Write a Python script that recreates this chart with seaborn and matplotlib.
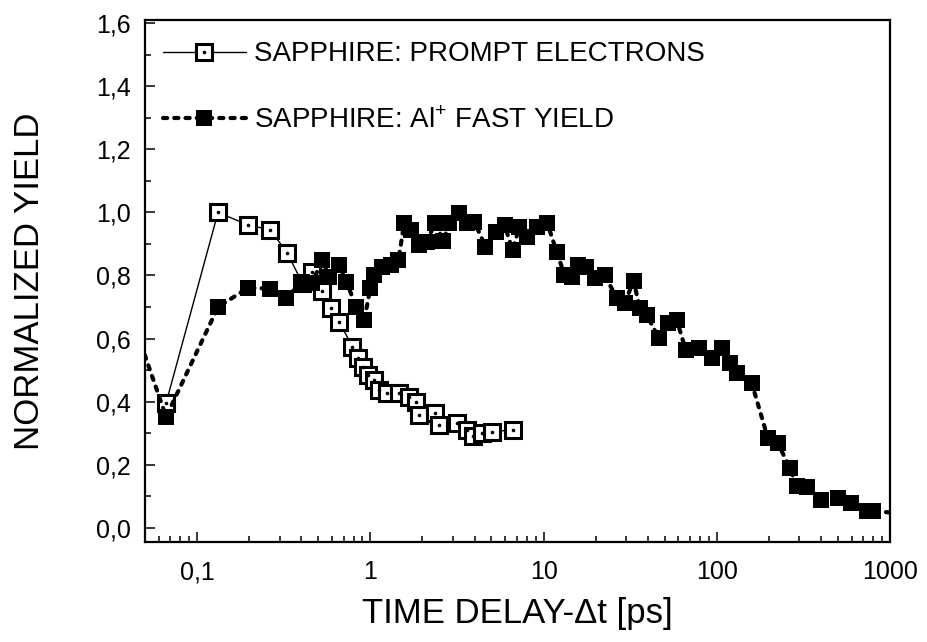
import matplotlib
matplotlib.use("Agg")
import matplotlib.pyplot as plt
import seaborn as sns
from matplotlib.ticker import FixedLocator, LogLocator, FuncFormatter, MultipleLocator, NullFormatter

# ---------------- data ----------------
prompt_t = [0.0662, 0.132, 0.197, 0.264, 0.331, 0.404, 0.462, 0.528, 0.595, 0.662,
            0.787, 0.853, 0.911, 0.974, 1.055, 1.127, 1.254, 1.471, 1.68, 1.845,
            1.92, 2.37, 2.50, 3.18, 3.59, 3.89, 4.44, 5.07, 6.62]
prompt_y = [0.396, 1.00, 0.960, 0.945, 0.872, 0.777, 0.811, 0.751, 0.697, 0.653,
            0.574, 0.539, 0.510, 0.485, 0.469, 0.437, 0.428, 0.428, 0.415, 0.400,
            0.358, 0.365, 0.326, 0.333, 0.311, 0.292, 0.301, 0.304, 0.311]

al_t = [0.043, 0.0662, 0.132, 0.197, 0.264, 0.327, 0.404, 0.462, 0.528, 0.579,
        0.662, 0.727, 0.830, 0.923, 1.0, 1.055, 1.174, 1.322, 1.452, 1.57,
        1.726, 1.92, 2.11, 2.37, 2.64, 2.86, 3.27, 3.59, 3.99, 4.62,
        5.28, 5.95, 6.62, 7.26, 7.98, 9.12, 10.5, 11.9, 13.2, 14.5,
        15.9, 17.5, 19.7, 22.5, 26.4, 29.4, 33.1, 35.9, 39.4, 46.2,
        52.1, 58.7, 66.2, 78.7, 93.6, 107, 119, 131, 159, 197,
        225, 264, 290, 331, 399, 500, 595, 737, 798, 1150]
al_y = [0.65, 0.352, 0.70, 0.761, 0.758, 0.729, 0.780, 0.777, 0.849, 0.796,
        0.834, 0.780, 0.700, 0.659, 0.761, 0.802, 0.827, 0.834, 0.849, 0.967,
        0.945, 0.897, 0.906, 0.967, 0.910, 0.967, 0.998, 0.967, 0.970, 0.891,
        0.938, 0.960, 0.881, 0.954, 0.922, 0.954, 0.967, 0.875, 0.802, 0.796,
        0.834, 0.827, 0.792, 0.802, 0.729, 0.713, 0.783, 0.697, 0.675, 0.602,
        0.650, 0.659, 0.564, 0.571, 0.539, 0.571, 0.523, 0.491, 0.460, 0.285,
        0.269, 0.190, 0.133, 0.130, 0.089, 0.095, 0.079, 0.054, 0.054, 0.045]

x_ticks = [0.1, 1, 10, 100, 1000]
x_tick_labels = ["0,1", "1", "10", "100", "1000"]
label_prompt = "SAPPHIRE: PROMPT ELECTRONS"
label_al = "SAPPHIRE: Al$^{+}$ FAST YIELD"
x_label = "TIME DELAY-\u0394t [ps]"
y_label = "NORMALIZED YIELD"

# ---------------- style ----------------
sns.set_theme(style="white")
plt.rcParams["font.family"] = ["Liberation Sans", "DejaVu Sans"]
plt.rcParams["mathtext.fontset"] = "custom"
plt.rcParams["mathtext.rm"] = "Liberation Sans"
plt.rcParams["text.color"] = "black"
plt.rcParams["axes.labelcolor"] = "black"

fig = plt.figure(figsize=(9.27, 6.42), dpi=100)
fig.patch.set_facecolor("white")
ax = fig.add_axes([145 / 927, 1 - 542 / 642, (890 - 145) / 927, (542 - 20) / 642])
ax.set_facecolor("white")

# open squares (prompt electrons) with thin solid line
sns.lineplot(x=prompt_t, y=prompt_y, ax=ax, estimator=None, sort=False,
             color="black", linewidth=1.0, marker="s", markersize=11.5,
             markerfacecolor="white", markeredgecolor="black",
             markeredgewidth=2.2, zorder=3)
# centre dots
sns.lineplot(x=prompt_t, y=prompt_y, ax=ax, estimator=None, sort=False,
             color="black", linewidth=0, marker="o", markersize=2.6,
             markeredgewidth=0, zorder=3.5)
# filled squares (Al+) with dotted/dashed line
sns.lineplot(x=al_t, y=al_y, ax=ax, estimator=None, sort=False,
             color="black", linewidth=3.0, linestyle=(0, (1.0, 1.7)),
             dash_capstyle="round", marker="s", markersize=11,
             markeredgewidth=0, zorder=4)

ax.set_xscale("log")
ax.set_xlim(0.05, 1000)
ax.set_ylim(-0.045, 1.61)

ax.xaxis.set_major_locator(FixedLocator(x_ticks))
ax.xaxis.set_major_formatter(FuncFormatter(
    lambda v, p: dict(zip(x_ticks, x_tick_labels)).get(v, "")))
ax.xaxis.set_minor_locator(LogLocator(base=10, subs=[2, 3, 4, 5, 6, 7, 8, 9], numticks=20))
ax.xaxis.set_minor_formatter(NullFormatter())

ax.yaxis.set_major_locator(MultipleLocator(0.2))
ax.yaxis.set_minor_locator(MultipleLocator(0.1))
ax.yaxis.set_major_formatter(FuncFormatter(lambda v, p: f"{v:.1f}".replace(".", ",")))

ax.tick_params(axis="both", which="both", direction="in", top=False, right=False,
               bottom=True, left=True, colors="black", labelcolor="black")
ax.tick_params(axis="both", which="major", length=7.5, width=1.1, labelsize=18)
ax.tick_params(axis="both", which="minor", length=4, width=1.1)
ax.tick_params(axis="x", which="major", pad=13)
ax.tick_params(axis="y", which="major", pad=10)

for s in ax.spines.values():
    s.set_visible(True)
    s.set_linewidth(1.6)
    s.set_color("black")

ax.set_xlabel(x_label, fontsize=25, labelpad=9, color="black")
ax.set_ylabel(y_label, fontsize=25, labelpad=36, color="black")

handles = [(ax.lines[0], ax.lines[1]), ax.lines[2]]
leg = ax.legend(handles, [label_prompt, label_al], loc="upper left",
                bbox_to_anchor=(-0.01, 1.007), frameon=False, fontsize=20,
                handlelength=3.0, handletextpad=0.3, labelspacing=1.45, numpoints=1)
for t in leg.get_texts():
    t.set_color("black")

fig.savefig("out.png", dpi=100, facecolor="white")
